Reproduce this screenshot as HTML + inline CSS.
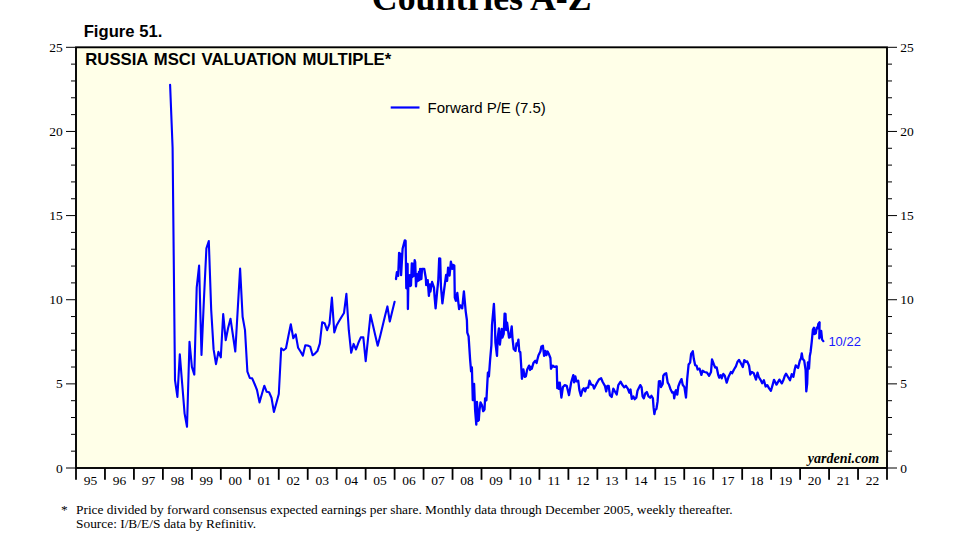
<!DOCTYPE html>
<html><head><meta charset="utf-8"><title>Russia MSCI Valuation Multiple</title>
<style>
html,body{margin:0;padding:0;background:#fff;}
body{width:956px;height:544px;overflow:hidden;position:relative;font-family:"Liberation Sans",sans-serif;}
svg{position:absolute;left:0;top:0;display:block;}
.tk{stroke:#000;stroke-width:1;}
.xt{stroke:#000;stroke-width:1.8;}
.ax{font-family:"Liberation Serif",serif;font-size:13.5px;fill:#000;}
.ttl{font-family:"Liberation Serif",serif;font-weight:bold;font-size:35.8px;fill:#000;}
.fig{font-family:"Liberation Sans",sans-serif;font-weight:bold;font-size:16.65px;fill:#000;}
.hd{font-family:"Liberation Sans",sans-serif;font-weight:bold;font-size:16.7px;fill:#000;}
.lg{font-family:"Liberation Sans",sans-serif;font-size:15.0px;fill:#000;}
.dt{font-family:"Liberation Sans",sans-serif;font-size:13px;fill:#1a1aff;}
.yd{font-family:"Liberation Serif",serif;font-weight:bold;font-style:italic;font-size:14.05px;fill:#000;}
.fn{font-family:"Liberation Serif",serif;font-size:13.38px;fill:#000;}
.ln{fill:none;stroke:#0000ff;stroke-width:2.1;stroke-linejoin:round;stroke-linecap:round;}
.wk{stroke-width:2.3;}
</style></head><body>
<svg width="956" height="544" viewBox="0 0 956 544">
<text x="481.7" y="9.5" class="ttl" text-anchor="middle">Countries A-Z</text>
<text x="83.7" y="36.9" class="fig">Figure 51.</text>
<rect x="76" y="47.3" width="811" height="420.7" fill="#ffffe8"/>
<line x1="66" x2="75" y1="468.00" y2="468.00" class="tk"/>
<line x1="888" x2="897" y1="468.00" y2="468.00" class="tk"/>
<line x1="71" x2="75" y1="451.17" y2="451.17" class="tk"/>
<line x1="888" x2="892" y1="451.17" y2="451.17" class="tk"/>
<line x1="71" x2="75" y1="434.34" y2="434.34" class="tk"/>
<line x1="888" x2="892" y1="434.34" y2="434.34" class="tk"/>
<line x1="71" x2="75" y1="417.52" y2="417.52" class="tk"/>
<line x1="888" x2="892" y1="417.52" y2="417.52" class="tk"/>
<line x1="71" x2="75" y1="400.69" y2="400.69" class="tk"/>
<line x1="888" x2="892" y1="400.69" y2="400.69" class="tk"/>
<line x1="66" x2="75" y1="383.86" y2="383.86" class="tk"/>
<line x1="888" x2="897" y1="383.86" y2="383.86" class="tk"/>
<line x1="71" x2="75" y1="367.03" y2="367.03" class="tk"/>
<line x1="888" x2="892" y1="367.03" y2="367.03" class="tk"/>
<line x1="71" x2="75" y1="350.20" y2="350.20" class="tk"/>
<line x1="888" x2="892" y1="350.20" y2="350.20" class="tk"/>
<line x1="71" x2="75" y1="333.38" y2="333.38" class="tk"/>
<line x1="888" x2="892" y1="333.38" y2="333.38" class="tk"/>
<line x1="71" x2="75" y1="316.55" y2="316.55" class="tk"/>
<line x1="888" x2="892" y1="316.55" y2="316.55" class="tk"/>
<line x1="66" x2="75" y1="299.72" y2="299.72" class="tk"/>
<line x1="888" x2="897" y1="299.72" y2="299.72" class="tk"/>
<line x1="71" x2="75" y1="282.89" y2="282.89" class="tk"/>
<line x1="888" x2="892" y1="282.89" y2="282.89" class="tk"/>
<line x1="71" x2="75" y1="266.06" y2="266.06" class="tk"/>
<line x1="888" x2="892" y1="266.06" y2="266.06" class="tk"/>
<line x1="71" x2="75" y1="249.24" y2="249.24" class="tk"/>
<line x1="888" x2="892" y1="249.24" y2="249.24" class="tk"/>
<line x1="71" x2="75" y1="232.41" y2="232.41" class="tk"/>
<line x1="888" x2="892" y1="232.41" y2="232.41" class="tk"/>
<line x1="66" x2="75" y1="215.58" y2="215.58" class="tk"/>
<line x1="888" x2="897" y1="215.58" y2="215.58" class="tk"/>
<line x1="71" x2="75" y1="198.75" y2="198.75" class="tk"/>
<line x1="888" x2="892" y1="198.75" y2="198.75" class="tk"/>
<line x1="71" x2="75" y1="181.92" y2="181.92" class="tk"/>
<line x1="888" x2="892" y1="181.92" y2="181.92" class="tk"/>
<line x1="71" x2="75" y1="165.10" y2="165.10" class="tk"/>
<line x1="888" x2="892" y1="165.10" y2="165.10" class="tk"/>
<line x1="71" x2="75" y1="148.27" y2="148.27" class="tk"/>
<line x1="888" x2="892" y1="148.27" y2="148.27" class="tk"/>
<line x1="66" x2="75" y1="131.44" y2="131.44" class="tk"/>
<line x1="888" x2="897" y1="131.44" y2="131.44" class="tk"/>
<line x1="71" x2="75" y1="114.61" y2="114.61" class="tk"/>
<line x1="888" x2="892" y1="114.61" y2="114.61" class="tk"/>
<line x1="71" x2="75" y1="97.78" y2="97.78" class="tk"/>
<line x1="888" x2="892" y1="97.78" y2="97.78" class="tk"/>
<line x1="71" x2="75" y1="80.96" y2="80.96" class="tk"/>
<line x1="888" x2="892" y1="80.96" y2="80.96" class="tk"/>
<line x1="71" x2="75" y1="64.13" y2="64.13" class="tk"/>
<line x1="888" x2="892" y1="64.13" y2="64.13" class="tk"/>
<line x1="66" x2="75" y1="47.30" y2="47.30" class="tk"/>
<line x1="888" x2="897" y1="47.30" y2="47.30" class="tk"/>
<line x1="76.00" x2="76.00" y1="468" y2="479.8" class="xt"/>
<line x1="104.96" x2="104.96" y1="468" y2="479.8" class="xt"/>
<line x1="133.93" x2="133.93" y1="468" y2="479.8" class="xt"/>
<line x1="162.89" x2="162.89" y1="468" y2="479.8" class="xt"/>
<line x1="191.86" x2="191.86" y1="468" y2="479.8" class="xt"/>
<line x1="220.82" x2="220.82" y1="468" y2="479.8" class="xt"/>
<line x1="249.79" x2="249.79" y1="468" y2="479.8" class="xt"/>
<line x1="278.75" x2="278.75" y1="468" y2="479.8" class="xt"/>
<line x1="307.71" x2="307.71" y1="468" y2="479.8" class="xt"/>
<line x1="336.68" x2="336.68" y1="468" y2="479.8" class="xt"/>
<line x1="365.64" x2="365.64" y1="468" y2="479.8" class="xt"/>
<line x1="394.61" x2="394.61" y1="468" y2="479.8" class="xt"/>
<line x1="423.57" x2="423.57" y1="468" y2="479.8" class="xt"/>
<line x1="452.54" x2="452.54" y1="468" y2="479.8" class="xt"/>
<line x1="481.50" x2="481.50" y1="468" y2="479.8" class="xt"/>
<line x1="510.46" x2="510.46" y1="468" y2="479.8" class="xt"/>
<line x1="539.43" x2="539.43" y1="468" y2="479.8" class="xt"/>
<line x1="568.39" x2="568.39" y1="468" y2="479.8" class="xt"/>
<line x1="597.36" x2="597.36" y1="468" y2="479.8" class="xt"/>
<line x1="626.32" x2="626.32" y1="468" y2="479.8" class="xt"/>
<line x1="655.29" x2="655.29" y1="468" y2="479.8" class="xt"/>
<line x1="684.25" x2="684.25" y1="468" y2="479.8" class="xt"/>
<line x1="713.21" x2="713.21" y1="468" y2="479.8" class="xt"/>
<line x1="742.18" x2="742.18" y1="468" y2="479.8" class="xt"/>
<line x1="771.14" x2="771.14" y1="468" y2="479.8" class="xt"/>
<line x1="800.11" x2="800.11" y1="468" y2="479.8" class="xt"/>
<line x1="829.07" x2="829.07" y1="468" y2="479.8" class="xt"/>
<line x1="858.04" x2="858.04" y1="468" y2="479.8" class="xt"/>
<line x1="887.00" x2="887.00" y1="468" y2="479.8" class="xt"/>
<rect x="76" y="47.3" width="811" height="420.7" fill="none" stroke="#000" stroke-width="1.9"/>
<text x="62.8" y="472.50" class="ax" text-anchor="end">0</text>
<text x="900.2" y="472.50" class="ax">0</text>
<text x="62.8" y="388.36" class="ax" text-anchor="end">5</text>
<text x="900.2" y="388.36" class="ax">5</text>
<text x="62.8" y="304.22" class="ax" text-anchor="end">10</text>
<text x="900.2" y="304.22" class="ax">10</text>
<text x="62.8" y="220.08" class="ax" text-anchor="end">15</text>
<text x="900.2" y="220.08" class="ax">15</text>
<text x="62.8" y="135.94" class="ax" text-anchor="end">20</text>
<text x="900.2" y="135.94" class="ax">20</text>
<text x="62.8" y="51.80" class="ax" text-anchor="end">25</text>
<text x="900.2" y="51.80" class="ax">25</text>
<text x="90.48" y="485.2" class="ax" text-anchor="middle">95</text>
<text x="119.45" y="485.2" class="ax" text-anchor="middle">96</text>
<text x="148.41" y="485.2" class="ax" text-anchor="middle">97</text>
<text x="177.38" y="485.2" class="ax" text-anchor="middle">98</text>
<text x="206.34" y="485.2" class="ax" text-anchor="middle">99</text>
<text x="235.30" y="485.2" class="ax" text-anchor="middle">00</text>
<text x="264.27" y="485.2" class="ax" text-anchor="middle">01</text>
<text x="293.23" y="485.2" class="ax" text-anchor="middle">02</text>
<text x="322.20" y="485.2" class="ax" text-anchor="middle">03</text>
<text x="351.16" y="485.2" class="ax" text-anchor="middle">04</text>
<text x="380.12" y="485.2" class="ax" text-anchor="middle">05</text>
<text x="409.09" y="485.2" class="ax" text-anchor="middle">06</text>
<text x="438.05" y="485.2" class="ax" text-anchor="middle">07</text>
<text x="467.02" y="485.2" class="ax" text-anchor="middle">08</text>
<text x="495.98" y="485.2" class="ax" text-anchor="middle">09</text>
<text x="524.95" y="485.2" class="ax" text-anchor="middle">10</text>
<text x="553.91" y="485.2" class="ax" text-anchor="middle">11</text>
<text x="582.88" y="485.2" class="ax" text-anchor="middle">12</text>
<text x="611.84" y="485.2" class="ax" text-anchor="middle">13</text>
<text x="640.80" y="485.2" class="ax" text-anchor="middle">14</text>
<text x="669.77" y="485.2" class="ax" text-anchor="middle">15</text>
<text x="698.73" y="485.2" class="ax" text-anchor="middle">16</text>
<text x="727.70" y="485.2" class="ax" text-anchor="middle">17</text>
<text x="756.66" y="485.2" class="ax" text-anchor="middle">18</text>
<text x="785.62" y="485.2" class="ax" text-anchor="middle">19</text>
<text x="814.59" y="485.2" class="ax" text-anchor="middle">20</text>
<text x="843.55" y="485.2" class="ax" text-anchor="middle">21</text>
<text x="872.52" y="485.2" class="ax" text-anchor="middle">22</text>
<path class="ln" d="M170.1,84.7 L172.6,148.0 L175.0,380.2 L177.4,396.9 L179.8,354.3 L182.2,384.0 L184.6,413.6 L187.0,426.7 L189.5,341.8 L191.9,366.9 L194.3,374.6 L196.7,287.7 L199.1,265.5 L201.5,354.9 L203.9,300.0 L206.4,248.4 L208.8,241.0 L211.2,310.0 L213.6,349.4 L216.0,364.1 L218.4,351.9 L220.8,357.4 L223.2,314.0 L225.7,340.2 L228.1,328.0 L230.5,318.7 L232.9,335.0 L235.3,351.5 L237.7,310.0 L240.1,268.5 L242.6,316.7 L245.0,330.1 L247.4,371.7 L249.8,378.0 L252.2,378.4 L254.6,384.0 L257.0,390.0 L259.5,402.4 L261.9,394.0 L264.3,385.7 L266.7,391.8 L269.1,392.3 L271.5,397.7 L273.9,411.9 L276.4,403.0 L278.8,394.0 L281.2,348.2 L283.6,350.2 L286.0,348.3 L288.4,336.0 L290.8,324.3 L293.3,338.2 L295.7,334.3 L298.1,347.7 L300.5,351.5 L302.9,355.6 L305.3,345.2 L307.7,345.5 L310.2,346.6 L312.6,355.3 L315.0,353.6 L317.4,351.1 L319.8,343.6 L322.2,322.2 L324.6,323.2 L327.1,330.2 L329.5,323.8 L331.9,297.6 L334.3,332.4 L336.7,325.2 L339.1,321.0 L341.5,317.0 L344.0,313.0 L346.4,293.9 L348.8,330.2 L351.2,352.8 L353.6,343.9 L356.0,349.5 L358.4,342.8 L360.8,337.4 L363.3,337.2 L365.7,361.2 L368.1,338.0 L370.5,314.8 L372.9,325.1 L375.3,335.5 L377.7,345.8 L380.2,336.0 L382.6,326.0 L385.0,316.0 L387.4,306.4 L389.8,321.5 L392.2,311.6 L394.6,301.8"/>
<path class="ln wk" d="M396.0,279.0 L396.9,272.1 L398.2,275.8 L399.1,252.9 L400.3,253.9 L401.1,275.2 L402.6,248.8 L404.8,240.3 L405.6,240.7 L406.3,288.3 L406.9,275.0 L407.6,263.9 L407.9,309.0 L408.3,286.0 L408.9,276.0 L409.4,286.0 L410.0,275.2 L410.5,286.0 L411.0,285.2 L411.8,263.5 L412.4,277.0 L413.0,264.0 L413.6,276.0 L414.7,260.2 L415.2,262.0 L416.0,286.4 L417.0,274.2 L417.6,281.0 L418.3,280.5 L418.9,272.0 L419.5,280.0 L420.1,268.8 L420.8,279.0 L421.4,279.0 L422.0,268.9 L424.2,268.8 L425.8,278.0 L426.2,285.1 L427.7,280.1 L428.9,295.8 L429.9,284.5 L430.4,291.5 L432.1,282.0 L434.0,287.7 L434.6,297.0 L435.6,308.3 L437.1,292.0 L438.3,280.1 L439.2,258.4 L440.2,258.6 L440.9,286.0 L442.4,303.3 L444.6,286.0 L446.1,274.8 L447.1,280.8 L448.1,267.6 L449.6,275.5 L450.9,261.6 L452.2,268.8 L452.8,264.8 L454.3,265.5 L454.8,297.7 L455.9,300.8 L457.3,293.0 L458.4,303.0 L459.1,309.0 L460.4,305.4 L462.2,308.3 L463.9,291.4 L465.7,311.3 L466.9,320.1 L467.3,332.7 L468.6,336.4 L470.1,359.5 L471.1,371.3 L471.9,367.5 L472.8,400.2 L474.1,383.8 L475.1,410.2 L476.3,424.6 L477.0,402.0 L478.0,420.9 L478.8,420.2 L479.5,410.2 L480.5,402.4 L482.0,405.2 L483.2,411.2 L484.5,409.6 L485.1,398.3 L486.4,400.2 L487.9,372.6 L488.9,376.3 L490.1,360.0 L491.4,345.2 L492.0,325.1 L493.9,303.8 L494.9,323.9 L495.4,342.7 L497.0,355.9 L497.7,337.7 L498.9,328.3 L499.9,344.6 L501.7,328.9 L502.4,337.7 L503.7,333.9 L504.6,313.6 L505.5,313.9 L506.2,330.1 L507.1,322.6 L509.0,337.7 L510.2,337.0 L511.7,326.4 L512.5,338.3 L513.7,349.0 L515.5,350.9 L516.5,343.3 L517.4,345.2 L518.4,339.6 L519.3,351.5 L520.3,352.0 L521.0,362.8 L521.9,378.8 L523.4,369.4 L524.7,376.9 L525.9,376.3 L527.2,369.4 L529.1,365.6 L530.1,370.0 L530.9,366.9 L531.8,368.8 L533.4,363.1 L535.3,360.8 L536.6,363.0 L537.2,360.3 L538.5,355.2 L540.4,351.5 L541.4,346.5 L542.9,345.8 L544.1,355.9 L545.4,350.9 L546.4,355.2 L547.6,351.5 L549.1,354.6 L550.4,358.0 L551.0,368.8 L552.7,365.6 L554.2,366.9 L556.7,366.3 L557.3,388.2 L558.2,382.6 L558.8,388.9 L559.8,382.6 L561.4,397.7 L562.9,387.0 L564.8,385.1 L566.7,385.8 L569.0,395.1 L571.2,382.3 L573.3,375.1 L574.1,382.3 L575.3,376.3 L576.5,381.4 L578.2,380.7 L579.4,390.1 L580.9,395.8 L582.6,389.5 L583.8,388.3 L585.1,391.4 L586.3,387.9 L588.2,387.6 L589.5,380.7 L591.1,384.5 L592.9,385.1 L594.1,388.6 L596.4,383.9 L598.9,379.5 L601.1,378.2 L602.7,382.0 L604.9,385.8 L606.2,391.4 L607.4,385.8 L608.7,385.8 L609.9,395.2 L611.7,397.0 L613.3,388.6 L615.2,392.0 L616.7,394.5 L618.3,385.1 L620.6,381.6 L622.1,384.5 L624.2,387.4 L625.9,385.8 L627.8,388.6 L629.3,392.7 L630.5,389.5 L631.8,398.9 L633.4,396.4 L634.7,399.2 L636.3,397.7 L637.5,390.8 L640.3,385.1 L641.6,387.4 L642.6,396.4 L643.8,398.3 L645.3,393.3 L646.8,392.0 L648.5,396.4 L650.1,397.7 L651.4,395.8 L652.9,398.3 L653.6,407.7 L654.4,414.0 L655.1,410.2 L656.4,409.0 L657.6,401.4 L658.9,381.4 L660.1,381.1 L661.0,387.0 L662.7,383.9 L663.3,375.7 L664.8,373.8 L666.2,373.2 L667.7,382.6 L668.9,384.5 L670.4,388.9 L672.3,392.7 L673.6,392.4 L674.2,398.3 L675.5,391.0 L676.0,390.2 L677.3,394.6 L678.3,386.5 L680.0,382.0 L681.5,379.1 L682.7,384.8 L684.4,387.1 L686.0,397.5 L687.2,378.9 L688.6,364.5 L690.1,362.6 L691.1,353.8 L692.8,351.3 L693.8,358.8 L695.1,365.1 L696.6,365.8 L697.6,369.5 L699.5,368.6 L701.4,374.9 L702.6,370.8 L704.5,372.0 L707.0,372.7 L709.1,375.8 L711.0,372.0 L712.0,359.5 L713.9,364.5 L715.2,367.6 L716.7,367.4 L718.3,375.2 L719.2,377.7 L720.8,375.2 L721.7,378.3 L723.3,373.9 L724.8,375.8 L726.7,382.7 L728.7,376.4 L730.9,372.0 L732.1,373.3 L734.0,369.5 L735.9,366.4 L737.4,362.0 L739.0,359.9 L740.9,363.2 L742.8,367.0 L744.3,360.1 L745.9,362.0 L747.2,361.4 L749.1,365.8 L750.3,374.5 L751.8,372.0 L753.8,373.3 L756.0,379.6 L757.5,372.7 L758.8,377.0 L760.4,379.6 L762.2,383.3 L763.9,380.2 L765.6,386.5 L767.3,385.2 L769.1,388.3 L770.9,390.8 L772.7,384.6 L774.0,379.8 L776.5,384.6 L777.9,382.1 L779.4,379.6 L781.8,383.4 L783.2,380.6 L784.8,375.8 L786.0,373.7 L788.0,377.0 L790.0,380.2 L791.7,374.2 L793.4,376.8 L794.6,370.1 L795.7,365.4 L798.1,368.0 L799.8,360.7 L801.0,358.4 L801.8,353.3 L802.6,358.6 L804.2,360.7 L805.6,370.0 L806.3,391.4 L807.2,383.5 L807.9,362.4 L809.0,368.7 L809.8,356.0 L810.6,352.0 L811.7,342.1 L812.9,329.6 L813.9,327.7 L814.6,334.0 L815.8,333.3 L816.7,327.7 L817.7,328.3 L818.3,323.9 L819.6,322.3 L819.3,338.4 L820.5,330.8 L821.2,330.8 L822.1,339.6 L823.3,341.1"/>
<text x="85.3" y="65.2" class="hd" style="word-spacing:1.45px">RUSSIA MSCI VALUATION MULTIPLE*</text>
<line x1="390.7" x2="419.5" y1="107.5" y2="107.5" stroke="#0000ff" stroke-width="2.2"/>
<text x="427.5" y="112.5" class="lg">Forward P/E (7.5)</text>
<text x="828.4" y="345.7" class="dt">10/22</text>
<text x="879.1" y="462.6" class="yd" text-anchor="end">yardeni.com</text>
<text x="61" y="513.9" class="fn">*</text>
<text x="76" y="513.9" class="fn">Price divided by forward consensus expected earnings per share. Monthly data through December 2005, weekly thereafter.</text>
<text x="76" y="527.9" class="fn">Source: I/B/E/S data by Refinitiv.</text>
</svg>
</body></html>
